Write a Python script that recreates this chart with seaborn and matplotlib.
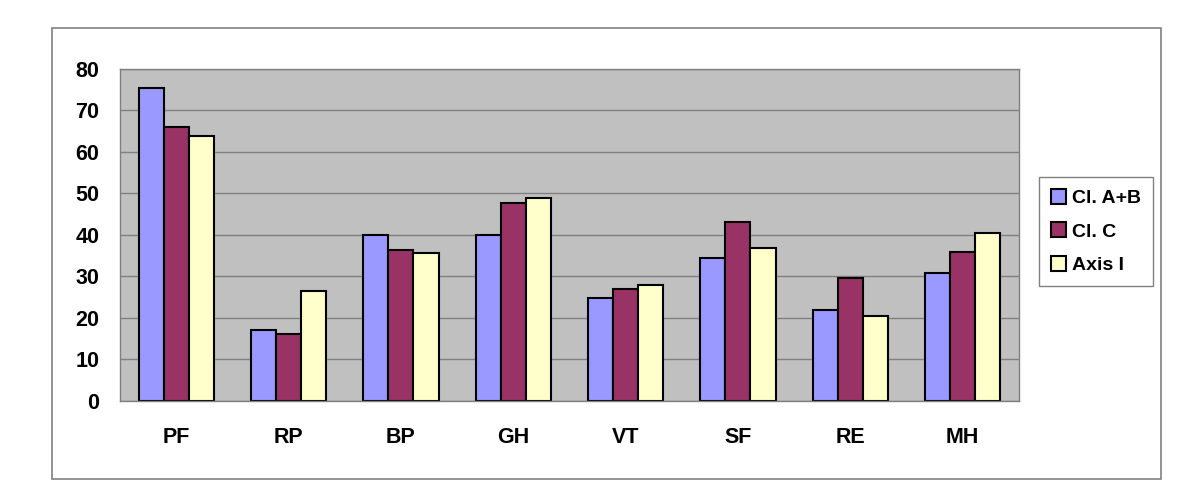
import pandas as pd
import matplotlib.pyplot as plt
import seaborn as sns
from matplotlib.patches import Rectangle

# values
scales = ['PF', 'RP', 'BP', 'GH', 'VT', 'SF', 'RE', 'MH']
cl_ab = [75.4, 17.0, 39.9, 39.9, 24.7, 34.4, 22.0, 30.9]
cl_c = [65.9, 16.1, 36.3, 47.6, 26.9, 43.0, 29.5, 35.9]
axis_i = [63.7, 26.5, 35.5, 48.9, 27.8, 36.7, 20.5, 40.4]

groups = ['Cl. A+B', 'Cl. C', 'Axis I']
colors = ['#9999FF', '#993366', '#FFFFCC']

df = pd.DataFrame({'scale': scales * 3,
                   'group': [g for g in groups for _ in scales],
                   'value': cl_ab + cl_c + axis_i})

sns.set_style('white')
plt.rcParams['font.family'] = ['Liberation Sans', 'DejaVu Sans']
plt.rcParams['text.color'] = 'black'

fig = plt.figure(figsize=(12, 4.93), dpi=100)
ax = fig.add_axes([0.1, 0.1866, 0.749, 0.6744])

# outer chart border
fig.patches.append(Rectangle((0.0433, 0.0284), 0.924, 0.9154, transform=fig.transFigure,
                             fill=False, edgecolor='#808080', linewidth=1.2))

sns.barplot(data=df, x='scale', y='value', hue='group', palette=colors, saturation=1,
            width=0.67, edgecolor='black', linewidth=1.5, ax=ax, legend=True)

ax.set_facecolor('#C0C0C0')
ax.set_xlim(-0.5, 7.5)
ax.set_ylim(0, 80)
ax.set_yticks(range(0, 81, 10))
ax.yaxis.grid(True, color='#808080', linewidth=1)
ax.set_axisbelow(True)
ax.set_xlabel('')
ax.set_ylabel('')
for s in ax.spines.values():
    s.set_color('#808080')
    s.set_linewidth(1)

ax.tick_params(axis='y', length=7, color='#808080', labelsize=15.5, pad=8, labelcolor='black')
ax.tick_params(axis='x', length=0, labelsize=15.5, pad=19, labelcolor='black')
ax.set_xticks([i - 0.5 for i in range(9)], minor=True)
ax.tick_params(axis='x', which='minor', length=7, color='#808080')
for lbl in ax.get_xticklabels() + ax.get_yticklabels():
    lbl.set_fontweight('bold')

ax.legend(loc='upper left', bbox_to_anchor=(1039 / 1200, (493 - 177) / 493),
          bbox_transform=fig.transFigure, prop={'weight': 'bold', 'size': 14},
          frameon=True, fancybox=False, edgecolor='#808080', framealpha=1,
          handlelength=0.8, handleheight=0.8, handletextpad=0.3, labelspacing=0.8,
          borderpad=0.6, borderaxespad=0)

fig.savefig('out.png', dpi=100)
